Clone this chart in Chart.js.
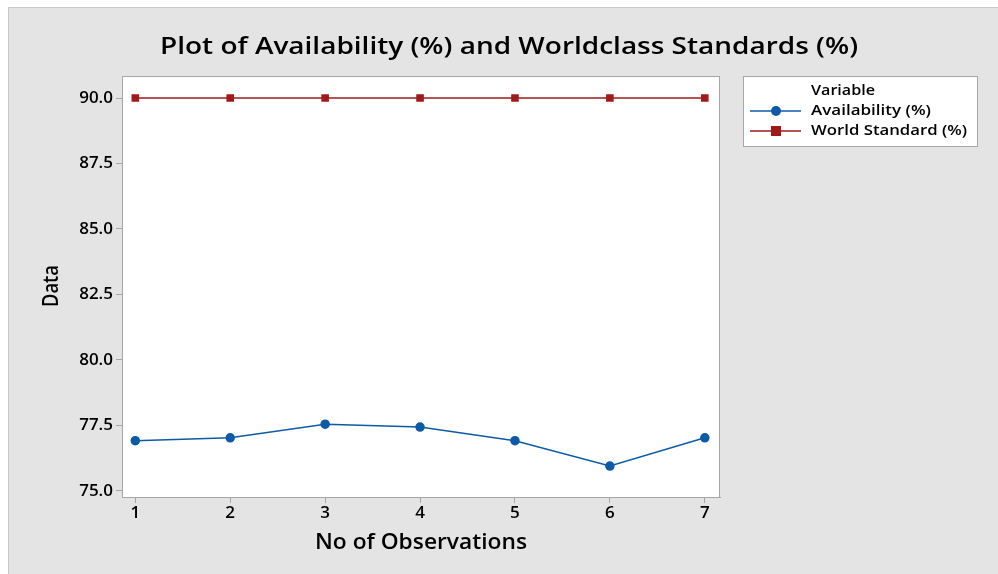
<!DOCTYPE html>
<html><head><meta charset="utf-8">
<script src="https://cdn.jsdelivr.net/npm/chart.js@4/dist/chart.umd.min.js"></script>
<style>html,body{margin:0;padding:0;background:#fff}#wrap{width:998px;height:574px}</style>
</head><body><div id="wrap"><canvas id="c" width="998" height="574"></canvas></div>
<script>
const observations = [1, 2, 3, 4, 5, 6, 7];
const availability = [76.92, 77.03, 77.55, 77.44, 76.92, 75.95, 77.03];
const worldStandard = [90, 90, 90, 90, 90, 90, 90];
const yTicks = [75.0, 77.5, 80.0, 82.5, 85.0, 87.5, 90.0];
const xTicks = [1, 2, 3, 4, 5, 6, 7];
const titleText = 'Plot of Availability (%) and Worldclass Standards (%)';
const xTitle = 'No of Observations';
const yTitle = 'Data';
const legendTitle = 'Variable';

const FONT = "'Open Sans', 'Noto Sans', sans-serif";

function fitText(ctx, text, x, y, font, width, align) {
  ctx.save();
  ctx.font = font;
  const w = ctx.measureText(text).width;
  const s = width / w;
  ctx.textAlign = 'left';
  ctx.textBaseline = 'middle';
  let left = align === 'center' ? x - width / 2 : x;
  ctx.translate(left, y);
  ctx.scale(s, 1);
  ctx.fillText(text, 0, 0);
  ctx.restore();
}

const decor = {
  id: 'decor',
  beforeDraw(chart) {
    const ctx = chart.ctx, a = chart.chartArea;
    ctx.save();
    ctx.fillStyle = '#ffffff';
    ctx.fillRect(0, 0, chart.width, chart.height);
    ctx.fillStyle = '#e4e4e4';
    ctx.fillRect(8, 7, chart.width - 8, chart.height - 7);
    ctx.strokeStyle = '#c8c8c8';
    ctx.lineWidth = 1;
    ctx.strokeRect(8.5, 7.5, chart.width, chart.height);
    ctx.fillStyle = '#ffffff';
    ctx.fillRect(a.left, a.top, a.right - a.left, a.bottom - a.top);
    ctx.restore();
  },
  afterDraw(chart) {
    const ctx = chart.ctx, a = chart.chartArea;
    ctx.save();
    ctx.fillStyle = '#000';
    fitText(ctx, titleText, 509, 47, "600 24px " + FONT, 698, 'center');
    fitText(ctx, xTitle, 421, 543, "600 21px " + FONT, 212, 'center');
    ctx.save();
    ctx.translate(52, 286);
    ctx.rotate(-Math.PI / 2);
    fitText(ctx, yTitle, 0, 0, "600 22px " + FONT, 42, 'center');
    ctx.restore();
    // plot border
    ctx.strokeStyle = '#a6a6a6';
    ctx.lineWidth = 1;
    ctx.strokeRect(a.left + 0.5, a.top + 0.5, a.right - a.left - 1, a.bottom - a.top);
    // legend
    const lx = 743, ly = 76, lw = 234, lh = 70;
    ctx.fillStyle = '#ffffff';
    ctx.fillRect(lx, ly, lw, lh);
    ctx.strokeStyle = '#a6a6a6';
    ctx.strokeRect(lx + 0.5, ly + 0.5, lw, lh);
    ctx.fillStyle = '#000';
    fitText(ctx, legendTitle, 811, 91, "600 14px " + FONT, 64, 'left');
    const rows = [111, 131];
    const widths = [120, 156];
    chart.data.datasets.forEach((ds, i) => {
      const y = rows[i];
      ctx.strokeStyle = ds.borderColor;
      ctx.lineWidth = 1.5;
      ctx.beginPath(); ctx.moveTo(750, y); ctx.lineTo(801, y); ctx.stroke();
      ctx.fillStyle = ds.pointBackgroundColor;
      if (ds.pointStyle === 'rect') {
        ctx.fillRect(771, y - 5, 10, 10);
      } else {
        ctx.beginPath(); ctx.arc(776, y, 5, 0, Math.PI * 2); ctx.fill();
      }
      ctx.fillStyle = '#000';
      fitText(ctx, ds.label, 811, y, "600 14px " + FONT, widths[i], 'left');
    });
    ctx.restore();
  }
};

new Chart(document.getElementById('c'), {
  type: 'line',
  data: {
    datasets: [
      {
        label: 'Availability (%)',
        data: observations.map((x, i) => ({ x, y: availability[i] })),
        borderColor: '#0d5aa7', backgroundColor: '#0d5aa7',
        pointBackgroundColor: '#0d5aa7', pointBorderColor: '#0d5aa7',
        pointStyle: 'circle', pointRadius: 4, borderWidth: 1.5, tension: 0
      },
      {
        label: 'World Standard (%)',
        data: observations.map((x, i) => ({ x, y: worldStandard[i] })),
        borderColor: '#a11a1a', backgroundColor: '#a11a1a',
        pointBackgroundColor: '#a11a1a', pointBorderColor: '#a11a1a',
        pointStyle: 'rect', pointRadius: 4.3, borderWidth: 1.5, tension: 0
      }
    ]
  },
  options: {
    responsive: false, animation: false, devicePixelRatio: 1,
    layout: { padding: { left: 0, top: 76, right: 278, bottom: 0 } },
    plugins: { legend: { display: false }, title: { display: false }, tooltip: { enabled: false } },
    scales: {
      x: {
        type: 'linear', min: 0.86, max: 7.16,
        afterBuildTicks(s) { s.ticks = xTicks.map(v => ({ value: v })); },
        afterFit(s) { s.height = 77; },
        grid: { drawOnChartArea: false, drawTicks: true, tickLength: 6, color: '#a6a6a6' },
        border: { color: '#a6a6a6' },
        ticks: { color: '#000', font: { family: FONT, size: 17, weight: '600' }, padding: 0, maxRotation: 0,
          callback: v => String(v) }
      },
      y: {
        type: 'linear', min: 74.77, max: 90.84,
        afterBuildTicks(s) { s.ticks = yTicks.map(v => ({ value: v })); },
        afterFit(s) { s.width = 122; },
        grid: { drawOnChartArea: false, drawTicks: true, tickLength: 6, color: '#a6a6a6' },
        border: { color: '#a6a6a6' },
        ticks: { color: '#000', font: { family: FONT, size: 17, weight: '600' }, padding: 3,
          callback: v => Number(v).toFixed(1) }
      }
    }
  },
  plugins: [decor]
});
</script></body></html>
